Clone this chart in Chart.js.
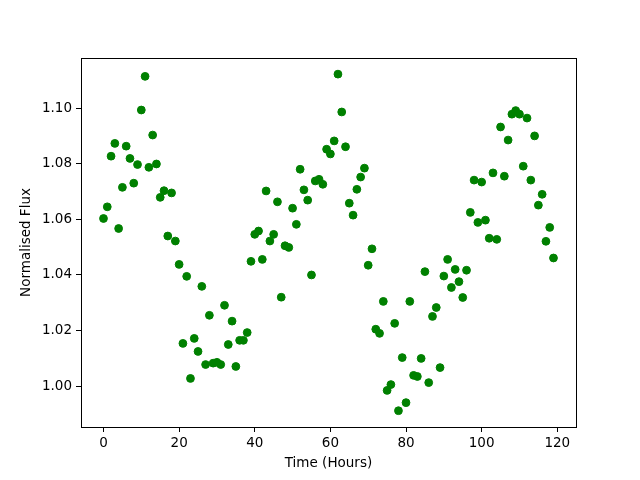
<!DOCTYPE html>
<html>
<head>
<meta charset="utf-8">
<script src="https://cdn.jsdelivr.net/npm/chart.js@4/dist/chart.umd.min.js"></script>
<style>
  html, body { margin: 0; padding: 0; background: #fff; }
  #wrap { width: 640px; height: 480px; }
</style>
</head>
<body>
<div id="wrap"><canvas id="myChart" width="640" height="480"></canvas></div>
<script>
// time in hours (x) and normalised flux (y)
const timeHours = [
  0, 1, 2, 3, 4, 5, 6, 7, 8, 9,
  10, 11, 12, 13, 14, 15, 16, 17, 18, 19,
  20, 21, 22, 23, 24, 25, 26, 27, 28, 29,
  30, 31, 32, 33, 34, 35, 36, 37, 38, 39,
  40, 41, 42, 43, 44, 45, 46, 47, 48, 49,
  50, 51, 52, 53, 54, 55, 56, 57, 58, 59,
  60, 61, 62, 63, 64, 65, 66, 67, 68, 69,
  70, 71, 72, 73, 74, 75, 76, 77, 78, 79,
  80, 81, 82, 83, 84, 85, 86, 87, 88, 89,
  90, 91, 92, 93, 94, 95, 96, 97, 98, 99,
  100, 101, 102, 103, 104, 105, 106, 107, 108, 109,
  110, 111, 112, 113, 114, 115, 116, 117, 118, 119
];
const flux = [
  1.0603, 1.0645, 1.0827, 1.0873, 1.0567, 1.0715, 1.0863, 1.0819, 1.0730, 1.0797,
  1.0993, 1.1114, 1.0787, 1.0903, 1.0799, 1.0679, 1.0703, 1.0540, 1.0695, 1.0522,
  1.0438, 1.0154, 1.0395, 1.0028, 1.0172, 1.0125, 1.0359, 1.0078, 1.0255, 1.0083,
  1.0086, 1.0078, 1.0291, 1.0150, 1.0234, 1.0071, 1.0165, 1.0165, 1.0193, 1.0449,
  1.0546, 1.0558, 1.0456, 1.0702, 1.0522, 1.0546, 1.0663, 1.0320, 1.0505, 1.0499,
  1.0640, 1.0582, 1.0780, 1.0706, 1.0669, 1.0400, 1.0738, 1.0744, 1.0726, 1.0852,
  1.0835, 1.0882, 1.1122, 1.0986, 1.0861, 1.0658, 1.0615, 1.0708, 1.0752, 1.0784,
  1.0435, 1.0494, 1.0205, 1.0190, 1.0305, 0.9985, 1.0006, 1.0226, 0.9912, 1.0103,
  0.9941, 1.0305, 1.0039, 1.0035, 1.0100, 1.0412, 1.0013, 1.0251, 1.0283, 1.0067,
  1.0396, 1.0456, 1.0355, 1.0420, 1.0376, 1.0319, 1.0417, 1.0625, 1.0741, 1.0589,
  1.0734, 1.0597, 1.0532, 1.0767, 1.0528, 1.0932, 1.0755, 1.0885, 1.0978, 1.0991,
  1.0978, 1.0791, 1.0964, 1.0741, 1.0900, 1.0651, 1.0690, 1.0521, 1.0571, 1.0461
];
const xTicks = [0, 20, 40, 60, 80, 100, 120];
const yTicks = [1.00, 1.02, 1.04, 1.06, 1.08, 1.10];

const points = timeHours.map((t, i) => ({ x: t, y: flux[i] }));

// top and right spines
const frameBox = {
    id: 'frameBox',
    afterDraw(chart) {
        const { ctx, chartArea: a } = chart;
        ctx.save();
        ctx.strokeStyle = '#000';
        ctx.lineWidth = 1;
        ctx.strokeRect(Math.round(a.left) + 0.5, Math.round(a.top) + 0.5,
            Math.round(a.right - a.left), Math.round(a.bottom - a.top));
        ctx.restore();
    }
};

const font = { family: 'DejaVu Sans', size: 13.5 };

new Chart(document.getElementById('myChart').getContext('2d'), {
    type: 'scatter',
    data: {
        datasets: [{
            data: points,
            backgroundColor: '#008000',
            borderColor: '#008000',
            pointRadius: 3.9,
            pointHoverRadius: 3.9,
            borderWidth: 1
        }]
    },
    options: {
        responsive: false,
        animation: false,
        layout: { padding: { left: 0, right: 64, top: 58, bottom: 0 } },
        plugins: { legend: { display: false }, tooltip: { enabled: false } },
        scales: {
            x: {
                type: 'linear',
                min: -5.95, max: 124.95,
                afterBuildTicks: s => { s.ticks = xTicks.map(v => ({ value: v })); },
                afterFit: s => { s.height = 53; },
                grid: { display: true, drawOnChartArea: false, drawTicks: true, tickLength: 5, color: '#000' },
                border: { display: true, color: '#000' },
                ticks: { color: '#000', font, padding: 3, maxRotation: 0 },
                title: { display: true, text: 'Time (Hours)', color: '#000', font, padding: { top: 0, bottom: 8 } }
            },
            y: {
                type: 'linear',
                min: 0.98534, max: 1.1180,
                afterBuildTicks: s => { s.ticks = yTicks.map(v => ({ value: v })); },
                afterFit: s => { s.width = 81; },
                grid: { display: true, drawOnChartArea: false, drawTicks: true, tickLength: 5, color: '#000' },
                border: { display: true, color: '#000' },
                ticks: { color: '#000', font, padding: 4, callback: v => v.toFixed(2) },
                title: { display: true, text: 'Normalised Flux', color: '#000', font, padding: { top: 18, bottom: 0 } }
            }
        }
    },
    plugins: [frameBox]
});
</script>
</body>
</html>
